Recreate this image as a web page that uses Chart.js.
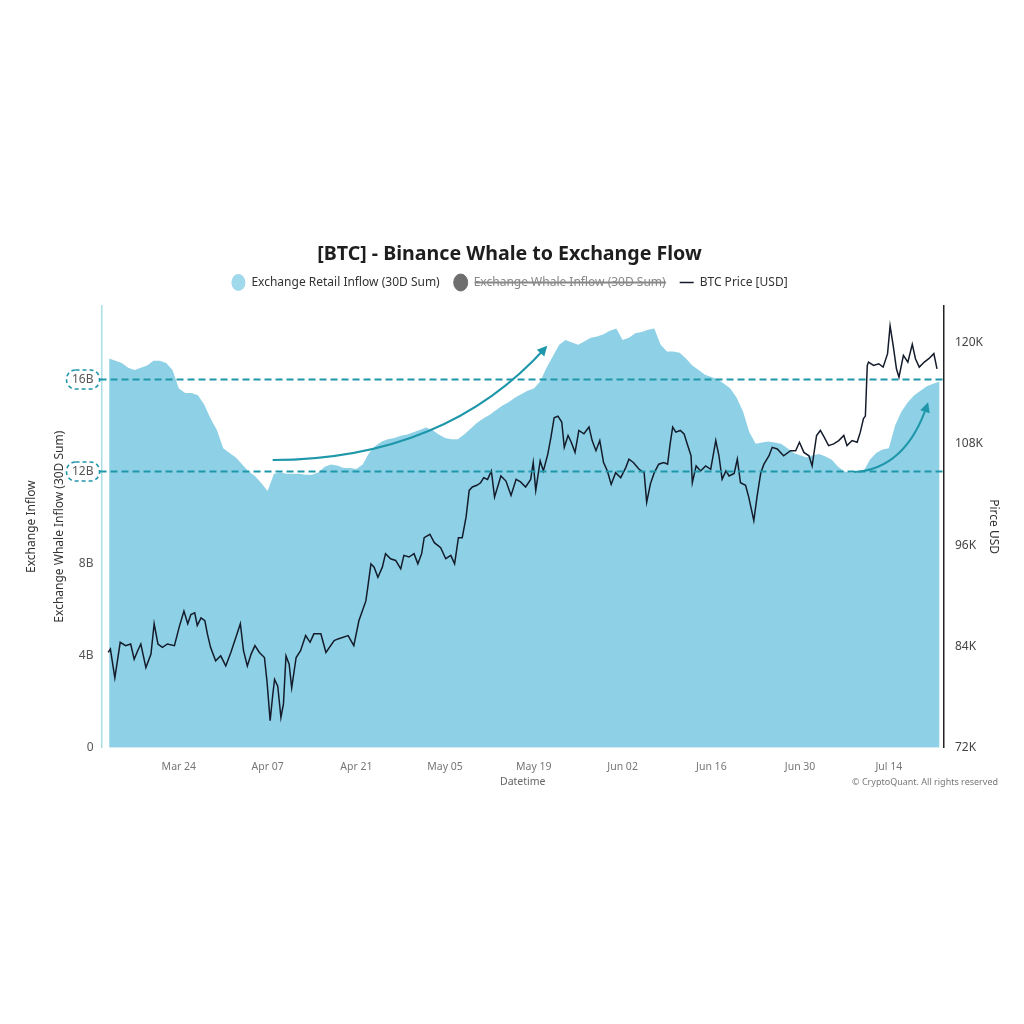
<!DOCTYPE html>
<html>
<head>
<meta charset="utf-8">
<script src="https://cdn.jsdelivr.net/npm/chart.js@4/dist/chart.umd.min.js"></script>
<style>
  html, body { margin: 0; padding: 0; background: #fff; }
  canvas { display: block; }
</style>
</head>
<body>
<canvas id="flowChart" width="1024" height="1024"></canvas>
<script>
// x values are days counted from Mar 12
const xTickDays = [12, 26, 40, 54, 68, 82, 96, 110, 124];
const xTickLabels = ["Mar 24", "Apr 07", "Apr 21", "May 05", "May 19", "Jun 02", "Jun 16", "Jun 30", "Jul 14"];
const yTickValues = [0, 4, 8, 12, 16];          // billions
const priceTickValues = [72, 84, 96, 108, 120]; // thousands USD
const levelLines = [12, 16];                     // dashed guide levels (B)

// Exchange Retail Inflow (30D Sum), one value per day starting at day 1, in B
const retailInflow = [
  16.9, 16.8, 16.7, 16.5, 16.4, 16.5, 16.6, 16.8, 16.8, 16.7,
  16.4, 15.6, 15.4, 15.4, 15.3, 14.9, 14.3, 13.8, 13.0, 12.8,
  12.6, 12.3, 12.0, 11.8, 11.5, 11.15, 11.9, 11.95, 11.9, 11.9,
  11.9, 11.85, 11.85, 11.95, 12.2, 12.3, 12.25, 12.15, 12.15, 12.1,
  12.3, 12.8, 13.1, 13.3, 13.4, 13.45, 13.55, 13.6, 13.7, 13.8,
  13.9, 13.8, 13.6, 13.45, 13.4, 13.4, 13.6, 13.85, 14.1, 14.3,
  14.45, 14.65, 14.85, 15.0, 15.2, 15.35, 15.5, 15.6, 15.9, 16.5,
  17.0, 17.5, 17.7, 17.6, 17.5, 17.65, 17.8, 17.85, 17.95, 18.1,
  18.2, 17.7, 17.8, 18.0, 18.05, 18.15, 18.2, 17.5, 17.2, 17.2,
  17.15, 16.9, 16.6, 16.4, 16.2, 16.1, 16.0, 15.8, 15.6, 15.2,
  14.6, 13.7, 13.2, 13.25, 13.3, 13.25, 13.2, 13.0, 12.8, 12.7,
  12.6, 12.7, 12.75, 12.65, 12.5, 12.2, 12.0, 11.95, 11.95, 12.0,
  12.5, 12.8, 12.95, 13.0, 14.0, 14.6, 15.0, 15.3, 15.5, 15.7,
  15.8, 15.9
];

// BTC price [USD], read in thousands at these day positions
const priceDays = [
  0.85, 1.2, 1.9, 2.75, 3.6, 4.4, 4.95, 5.5, 6.0, 6.8, 7.6, 8.1, 8.7, 9.4, 10.2, 11.3,
  12.05, 12.8, 13.4, 13.9, 14.5, 14.9, 15.5, 16.1, 16.5, 17.0, 17.8, 18.6, 19.4, 20.2,
  21.0, 21.7, 22.2, 22.8, 23.4, 24.0, 24.7, 25.5, 25.9, 26.4, 26.8, 27.1, 27.6, 28.1,
  28.5, 28.9, 29.4, 29.8, 30.5, 31.2, 32.0, 32.7, 33.3, 34.4, 35.2, 36.5, 37.1, 38.7,
  39.6, 40.4, 41.5, 41.8, 42.3, 42.8, 43.4, 44.1, 44.6, 45.4, 46.2, 47.0, 47.5, 48.3,
  49.1, 49.7, 50.3, 50.7, 51.6, 52.3, 53.3, 54.1, 54.9, 55.5, 56.1, 56.7, 57.3, 57.8,
  58.3, 59.0, 59.6, 60.1, 60.7, 61.3, 61.8, 62.8, 63.6, 64.4, 65.2, 65.9, 66.7, 67.5,
  67.9, 68.3, 69.0, 69.5, 70.2, 70.7, 71.2, 71.8, 72.4, 72.8, 73.4, 73.9, 74.5, 75.1,
  75.9, 76.7, 77.2, 77.8, 78.4, 79.0, 79.6, 80.2, 80.9, 81.7, 82.5, 83.0, 83.7, 84.6,
  85.4, 85.8, 86.4, 87.0, 87.7, 88.5, 89.1, 89.5, 89.9, 90.4, 91.1, 91.7, 92.2, 92.8,
  93.0, 93.6, 94.3, 95.1, 95.9, 96.7, 97.2, 97.7, 98.3, 98.8, 99.6, 100.1, 100.6, 101.4,
  101.9, 102.3, 102.7, 103.2, 103.8, 104.3, 105.1, 105.6, 106.4, 107.4, 108.5, 109.3,
  109.9, 110.6, 111.4, 111.9, 112.6, 113.2, 113.8, 114.5, 115.3, 116.1, 116.9, 117.4,
  118.2, 119.0, 119.5, 120.0, 120.3, 120.6, 120.8, 121.6, 122.4, 123.1, 123.8, 124.2,
  124.7, 125.2, 125.6, 126.3, 127.0, 127.7, 128.2, 128.8, 129.6, 130.3, 131.1, 131.6
];
const priceValues = [
  83.3, 83.7, 80.3, 84.5, 84.1, 84.3, 82.5, 83.5, 84.3, 81.5, 83.1, 86.7, 84.3, 83.9, 84.3, 84.1,
  86.3, 88.2, 86.7, 87.8, 88.0, 86.5, 87.4, 87.05, 85.5, 83.9, 82.3, 82.9, 81.7, 83.3,
  85.1, 86.7, 83.5, 81.7, 83.1, 84.1, 83.3, 82.7, 79.9, 75.2, 78.2, 80.1, 79.3, 75.6,
  77.2, 82.9, 81.9, 79.1, 82.7, 83.5, 85.3, 84.5, 85.5, 85.5, 83.3, 84.7, 84.9, 85.3,
  84.1, 87.05, 89.4, 91.0, 93.8, 93.4, 92.2, 93.4, 95.0, 94.4, 94.2, 93.2, 94.8, 94.6,
  95.0, 93.8, 95.0, 96.9, 97.3, 96.3, 95.7, 94.4, 94.8, 93.8, 96.9, 96.9, 99.3, 102.5,
  102.9, 103.1, 103.4, 104.0, 103.8, 104.8, 101.7, 104.2, 103.6, 101.9, 103.8, 103.5, 102.9, 103.8,
  105.8, 102.5, 106.0, 104.8, 106.8, 108.8, 111.1, 111.3, 110.6, 107.6, 109.0, 108.2, 107.0, 109.6,
  109.2, 110.0, 108.4, 107.2, 108.4, 105.8, 104.8, 103.2, 104.6, 104.0, 105.2, 106.2, 105.8, 105.0,
  104.6, 101.1, 103.3, 104.6, 105.6, 105.8, 105.6, 108.0, 110.0, 109.4, 109.6, 109.2, 108.0, 106.6,
  103.4, 105.4, 104.8, 105.4, 105.0, 108.4, 106.6, 103.8, 104.8, 104.2, 104.5, 106.2, 103.4, 103.1,
  101.7, 100.3, 98.9, 101.7, 104.6, 105.6, 106.6, 107.6, 107.4, 106.6, 107.2, 107.2,
  108.2, 107.0, 106.6, 105.4, 109.0, 109.6, 108.8, 107.8, 108.0, 108.4, 109.0, 107.8,
  108.4, 108.2, 109.4, 111.0, 111.3, 117.3, 117.7, 117.3, 117.5, 117.1, 118.7, 122.0,
  119.6, 116.9, 115.9, 118.5, 117.7, 119.8, 118.1, 117.1, 117.7, 118.1, 118.7, 116.9
];

// annotation arrows in data units: start, control, end as [day, B]
const arrowPaths = [
  [[26.8, 12.49], [54.1, 12.53], [69.9, 17.39]],
  [[118.5, 11.97], [126.7, 12.1], [130.1, 14.92]]
];

const TEAL = "#1f97aa";
const FONT = "'Noto Sans', 'Open Sans', sans-serif";

// dashed guide lines, boxed level labels, arrows and footer text
const annotations = {
  id: "annotations",
  beforeInit(chart) {
    // extra gap under the legend
    const fit = chart.legend.fit;
    chart.legend.fit = function () {
      fit.call(this);
      this.height += 7;
    };
  },
  afterDatasetsDraw(chart) {
    const ctx = chart.ctx;
    const area = chart.chartArea;
    const xs = chart.scales.x;
    const ys = chart.scales.y;
    ctx.save();
    ctx.strokeStyle = TEAL;
    levelLines.forEach((v) => {
      const py = Math.round(ys.getPixelForValue(v)) + 0.5;
      ctx.lineWidth = 2;
      ctx.setLineDash([7, 4]);
      ctx.beginPath();
      ctx.moveTo(area.left - 2, py);
      ctx.lineTo(area.right, py);
      ctx.stroke();
      // pill box around the tick label
      ctx.lineWidth = 1.6;
      ctx.setLineDash([4, 3]);
      ctx.beginPath();
      ctx.roundRect(area.left - 35, py - 9.5, 33, 19, 9);
      ctx.stroke();
    });
    ctx.setLineDash([]);
    ctx.fillStyle = TEAL;
    arrowPaths.forEach((p) => {
      const pts = p.map((d) => [xs.getPixelForValue(d[0]), ys.getPixelForValue(d[1])]);
      ctx.lineWidth = 2;
      ctx.beginPath();
      ctx.moveTo(pts[0][0], pts[0][1]);
      ctx.quadraticCurveTo(pts[1][0], pts[1][1], pts[2][0], pts[2][1]);
      ctx.stroke();
      const ang = Math.atan2(pts[2][1] - pts[1][1], pts[2][0] - pts[1][0]);
      ctx.save();
      ctx.translate(pts[2][0], pts[2][1]);
      ctx.rotate(ang);
      ctx.beginPath();
      ctx.moveTo(2, 0);
      ctx.lineTo(-8, -5);
      ctx.lineTo(-8, 5);
      ctx.closePath();
      ctx.fill();
      ctx.restore();
    });
    ctx.restore();
  },
  afterDraw(chart) {
    const ctx = chart.ctx;
    ctx.save();
    ctx.font = "9px " + FONT;
    ctx.fillStyle = "#777";
    ctx.textAlign = "right";
    ctx.textBaseline = "middle";
    ctx.fillText("\u00A9 CryptoQuant. All rights reserved", 998, 782);
    ctx.restore();
  }
};

const retailPoints = retailInflow.map((v, i) => ({ x: i + 1, y: v }));
const pricePoints = priceDays.map((d, i) => ({ x: d, y: priceValues[i] }));

new Chart(document.getElementById("flowChart"), {
  type: "line",
  data: {
    datasets: [
      {
        label: "Exchange Retail Inflow (30D Sum)",
        data: retailPoints,
        yAxisID: "y",
        fill: "origin",
        backgroundColor: "rgb(142, 209, 230)",
        borderColor: "rgb(160, 216, 236)",
        borderWidth: 0,
        pointRadius: 0,
        pointStyle: "circle",
        order: 3
      },
      {
        label: "Exchange Whale Inflow (30D Sum)",
        data: [],
        yAxisID: "y",
        hidden: true,
        backgroundColor: "#6e6e6e",
        borderColor: "#6e6e6e",
        pointStyle: "circle",
        order: 2
      },
      {
        label: "BTC Price [USD]",
        data: pricePoints,
        yAxisID: "y2",
        borderColor: "#141c2b",
        backgroundColor: "#141c2b",
        borderWidth: 1.5,
        pointRadius: 0,
        pointStyle: "line",
        tension: 0,
        order: 1
      }
    ]
  },
  options: {
    responsive: false,
    animation: false,
    layout: { padding: { top: 243, bottom: 236, left: 18, right: 23 } },
    plugins: {
      tooltip: { enabled: false },
      title: {
        display: true,
        text: "[BTC] - Binance Whale to Exchange Flow",
        color: "#1e1e1e",
        font: { family: FONT, size: 19.6, weight: "bold" },
        padding: { top: 0, bottom: -4 }
      },
      legend: {
        labels: {
          usePointStyle: true,
          boxHeight: 12,
          boxWidth: 12,
          pointStyleWidth: 14,
          padding: 14,
          color: "#333",
          font: { family: FONT, size: 12 },
          sort: (a, b) => a.datasetIndex - b.datasetIndex,
          generateLabels(chart) {
            const items = Chart.defaults.plugins.legend.labels.generateLabels(chart);
            items.forEach((it) => {
              if (it.hidden) it.fontColor = "#888";
              if (it.datasetIndex === 0) { it.fillStyle = "rgb(160, 216, 236)"; it.strokeStyle = "rgb(160, 216, 236)"; }
            });
            return items;
          }
        }
      }
    },
    scales: {
      x: {
        type: "linear",
        min: -0.2,
        max: 132.7,
        afterBuildTicks(scale) {
          scale.ticks = xTickDays.map((v) => ({ value: v }));
        },
        ticks: {
          color: "#777",
          font: { family: FONT, size: 10.5 },
          padding: 13,
          maxRotation: 0,
          callback: (v) => xTickLabels[xTickDays.indexOf(v)]
        },
        grid: { display: false, drawTicks: false },
        border: { display: false },
        title: {
          display: true,
          text: "Datetime",
          color: "#666",
          font: { family: FONT, size: 10.5 },
          padding: { top: -11, bottom: 0 }
        }
      },
      y: {
        position: "left",
        min: 0,
        max: 19.2,
        afterBuildTicks(scale) {
          scale.ticks = yTickValues.map((v) => ({ value: v }));
        },
        ticks: {
          color: "#555",
          font: { family: FONT, size: 12 },
          padding: 8,
          callback: (v) => (v === 0 ? "0" : v + "B")
        },
        grid: { display: false, drawTicks: false },
        border: { display: true, color: "#a9dfe4", width: 1.5 },
        title: {
          display: true,
          text: ["Exchange Inflow", "Exchange Whale Inflow (30D Sum)"],
          color: "#333",
          font: { family: FONT, size: 12, lineHeight: "28px" },
          padding: { top: 0, bottom: -10 }
        }
      },
      y2: {
        position: "right",
        min: 72,
        max: 124.4,
        afterBuildTicks(scale) {
          scale.ticks = priceTickValues.map((v) => ({ value: v }));
        },
        ticks: {
          color: "#444",
          font: { family: FONT, size: 12 },
          padding: 11,
          callback: (v) => v + "K"
        },
        grid: { display: false, drawTicks: false },
        border: { display: true, color: "#222", width: 1.5 },
        title: {
          display: true,
          text: "Pirce USD",
          color: "#333",
          font: { family: FONT, size: 12, lineHeight: 1 },
          padding: { top: 2, bottom: -7 }
        }
      }
    }
  },
  plugins: [annotations]
});
</script>
</body>
</html>
